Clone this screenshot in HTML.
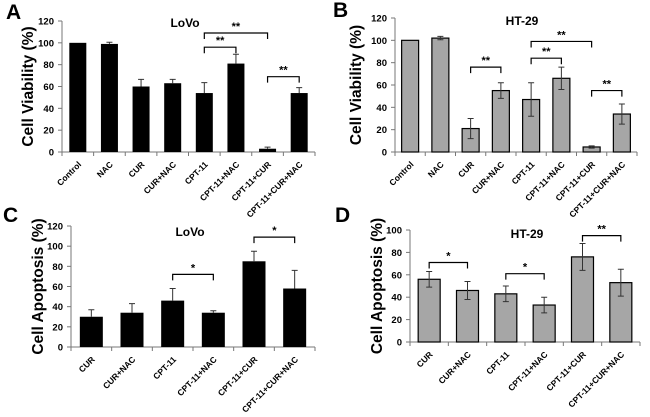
<!DOCTYPE html>
<html><head><meta charset="utf-8"><style>
body{margin:0;background:#fff;}
svg{display:block;font-family:"Liberation Sans",Arial,sans-serif;}
</style></head><body>
<svg id="fig" width="650" height="417"></svg>
<script>
const catsA = ["Control","NAC","CUR","CUR+NAC","CPT-11","CPT-11+NAC","CPT-11+CUR","CPT-11+CUR+NAC"];
const valsA = [100,99,60,63,54,81,3,54];
const errA  = [0,1.5,6.5,3.5,9.5,8.5,1.5,5];
const valsB = [100,102,21,55,47,66,4.5,34];
const errB  = [0,1.5,9,7,15,10,1,9];
const catsC = ["CUR","CUR+NAC","CPT-11","CPT-11+NAC","CPT-11+CUR","CPT-11+CUR+NAC"];
const valsC = [30,34,46,34,85,58];
const errC  = [7,9,12,2,10,18];
const valsD = [56,46,43,33,76,53];
const errD  = [7,8,7,7,12,12];
const ticks120 = [0,20,40,60,80,100,120];
const ticks100 = [0,20,40,60,80,100];
const brA = [[4,6,109,"**"],[4,5,96,"**"],[6,7,69,"**"]];
const brB = [[2,3,76,"**"],[4,5,84,"**"],[4,6,99,"**"],[6,7,55,"**"]];
const brC = [[2,3,72,"*"],[4,5,109,"*"]];
const brD = [[0,1,71,"*"],[2,3,61,"*"],[4,5,95,"**"]];

const NS="http://www.w3.org/2000/svg";
const svg=document.getElementById('fig');
function mk(tag,attrs,parent){const e=document.createElementNS(NS,tag);for(const k in attrs)e.setAttribute(k,attrs[k]);(parent||svg).appendChild(e);return e;}

function panel(o){
  const g=mk('g',{});
  
  
  const n=o.cats.length, step=(o.x1-o.x0)/n;
  const y=v=>o.y0-(v/o.max)*(o.y0-o.yTop);
  const xc=i=>o.x0+step*(i+0.5);
  // panel letter
  const L=mk('text',{x:o.lx,y:o.ly,'font-size':21,'font-weight':'bold'},g);L.textContent=o.id;
  
  
  // title
  const T=mk('text',{x:o.tx,y:o.ty,'font-size':12,'font-weight':'bold','text-anchor':'middle'},g);T.textContent=o.title;
  
  
  // y title
  const YT=mk('text',{x:0,y:0,'font-size':15.5,'font-weight':'bold','text-anchor':'middle',transform:`translate(${o.ytx},${(o.y0+o.yTop)/2}) rotate(-90)`},g);YT.textContent=o.ylabel;
  
  
  // axes
  const ya=mk('line',{x1:o.x0,y1:o.yTop,x2:o.x0,y2:o.y0,stroke:'#777','stroke-width':1},g);
  
  
  const xa=mk('line',{x1:o.x0,y1:o.y0,x2:o.x1,y2:o.y0,stroke:'#777','stroke-width':1},g);
  
  
  o.ticks.forEach(t=>{
    mk('line',{x1:o.x0-4,y1:y(t),x2:o.x0,y2:y(t),stroke:'#777'},g);
    const tl=mk('text',{x:o.x0-8,y:y(t)+3.5,'font-size':9.5,'font-weight':'bold','text-anchor':'end'},g);tl.textContent=t;
    
    
  });
  for(let i=0;i<=n;i++) mk('line',{x1:o.x0+step*i,y1:o.y0,x2:o.x0+step*i,y2:o.y0+4,stroke:'#777'},g);
  o.vals.forEach((v,i)=>{
    const b=mk('rect',{x:xc(i)-o.bw/2,y:y(v),width:o.bw,height:o.y0-y(v),fill:o.fill,stroke:'#000','stroke-width':o.fill==='#000'?0:1.2},g);
    
    
    const e=o.err[i];
    if(e>0){
      const lo=o.fill==='#000'?v:v-e;
      const eb=mk('path',{d:`M${xc(i)},${y(lo)}V${y(v+e)}M${xc(i)-3},${y(v+e)}H${xc(i)+3}`+(o.fill==='#000'?'':`M${xc(i)-3},${y(v-e)}H${xc(i)+3}`),stroke:'#333','stroke-width':1,fill:'none'},g);
      
      
    }
    const cl=mk('text',{x:0,y:0,'font-size':8.5,'font-weight':'bold','text-anchor':'end',transform:`translate(${xc(i)+4},${o.y0+13}) rotate(-45)`},g);cl.textContent=o.cats[i];
    
    
  });
  o.br.forEach(b=>{
    const [a,c,v,s]=b, yy=y(v);
    const p=mk('path',{d:`M${xc(a)},${yy+6}V${yy}H${xc(c)}V${yy+6}`,stroke:'#000','stroke-width':1.2,fill:'none'},g);
    
    
    const st=mk('text',{x:(xc(a)+xc(c))/2,y:yy-3,'font-size':11,'font-weight':'bold','text-anchor':'middle'},g);st.textContent=s;
    
    
  });
}
panel({id:'A',title:'LoVo',ylabel:'Cell Viability (%)',cats:catsA,vals:valsA,err:errA,br:brA,ticks:ticks120,max:120,
  x0:62,x1:315,y0:152,yTop:21,bw:17,fill:'#000',lx:6,ly:19,tx:185,ty:27,ytx:33});
panel({id:'B',title:'HT-29',ylabel:'Cell Viability (%)',cats:catsA,vals:valsB,err:errB,br:brB,ticks:ticks120,max:120,
  x0:395,x1:637,y0:152,yTop:18,bw:17,fill:'#a6a6a6',lx:333,ly:17,tx:522,ty:25,ytx:361});
panel({id:'C',title:'LoVo',ylabel:'Cell Apoptosis (%)',cats:catsC,vals:valsC,err:errC,br:brC,ticks:ticks120,max:120,
  x0:71,x1:315,y0:347,yTop:226,bw:23,fill:'#000',lx:3,ly:222,tx:190,ty:236,ytx:43});
panel({id:'D',title:'HT-29',ylabel:'Cell Apoptosis (%)',cats:catsC,vals:valsD,err:errD,br:brD,ticks:ticks100,max:100,
  x0:410,x1:640,y0:342,yTop:230,bw:22,fill:'#a6a6a6',lx:335,ly:222,tx:527,ty:238,ytx:382});
</script>
</body></html>
